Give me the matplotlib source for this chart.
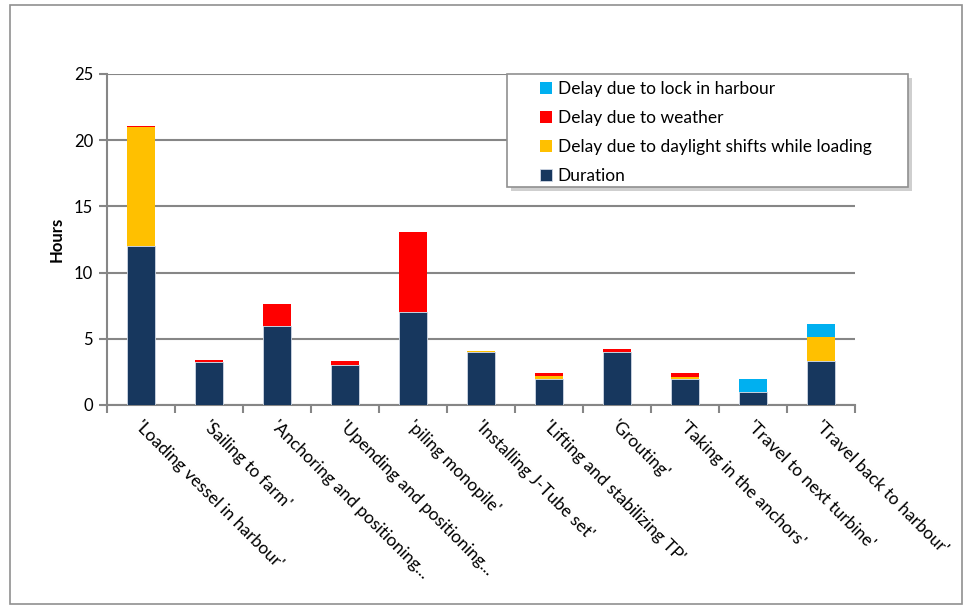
import numpy as np
import matplotlib.pyplot as plt
import matplotlib.transforms as mtrans
from matplotlib.patches import Rectangle

# task steps and hours per component
steps = ["'Loading vessel in harbour'", "'Sailing to farm'", "'Anchoring and positioning...",
         "'Upending and positioning...", "'piling monopile'", "'Installing J-Tube set'",
         "'Lifting and stabilizing TP'", "'Grouting'", "'Taking in the anchors'",
         "'Travel to next turbine'", "'Travel back to harbour'"]
duration = [12.0, 3.25, 6.0, 3.0, 7.0, 4.0, 2.0, 4.0, 2.0, 1.0, 3.3]
daylight = [9.0, 0.0, 0.0, 0.0, 0.05, 0.05, 0.2, 0.0, 0.1, 0.0, 1.8]
weather = [0.1, 0.15, 1.6, 0.35, 6.0, 0.0, 0.2, 0.2, 0.3, 0.0, 0.0]
lock = [0.0, 0.0, 0.0, 0.0, 0.0, 0.0, 0.0, 0.0, 0.0, 1.0, 1.0]

plt.rcParams['font.family'] = ['Lato', 'DejaVu Sans']

fig = plt.figure(figsize=(9.66, 6.05), dpi=100)
ax = fig.add_axes([0.1108, 0.3306, 0.7743, 0.5471])

x = np.arange(len(steps))
w = 0.4
ec = '#d0d8e4'
b1 = ax.bar(x, duration, w, color='#17375E', edgecolor=ec, linewidth=0.6, zorder=3, label='Duration')
bot = np.array(duration)
b2 = ax.bar(x, daylight, w, bottom=bot, color='#FFC000', edgecolor='none', zorder=3,
            label='Delay due to daylight shifts while loading')
bot = bot + np.array(daylight)
b3 = ax.bar(x, weather, w, bottom=bot, color='#FF0000', edgecolor='none', zorder=3,
            label='Delay due to weather')
bot = bot + np.array(weather)
b4 = ax.bar(x, lock, w, bottom=bot, color='#00B0F0', edgecolor='none', zorder=3,
            label='Delay due to lock in harbour')

ax.set_xlim(-0.5, len(steps) - 0.5)
ax.set_ylim(0, 25)
ax.set_yticks([0, 5, 10, 15, 20, 25])
ax.yaxis.grid(True, color='#868686', linewidth=1.5, zorder=0)
ax.tick_params(axis='y', labelsize=12, color='#868686', width=1.5, length=6, pad=4)

# category labels at bar centers, tick marks between categories
ax.set_xticks(x)
ax.set_xticklabels(steps, rotation=-45, ha='left', va='top', rotation_mode='anchor', fontsize=12.5)
ax.tick_params(axis='x', which='major', length=0, pad=9)
ax.set_xticks(np.arange(-0.5, len(steps)), minor=True)
ax.tick_params(axis='x', which='minor', length=6, color='#868686', width=1.5)
for lab in ax.get_xticklabels():
    lab.set_transform(lab.get_transform() + mtrans.ScaledTranslation(2 / 100, 0, fig.dpi_scale_trans))

for s in ['top', 'right']:
    ax.spines[s].set_visible(False)
for s in ['left', 'bottom']:
    ax.spines[s].set_color('#868686')
    ax.spines[s].set_linewidth(1.5)

ax.set_ylabel('Hours', fontsize=12, fontweight='bold', labelpad=7)

# legend box with drop shadow, entries drawn on top without their own frame
ax.add_patch(Rectangle((511 / 966, 1 - 191 / 605), 401 / 966, 113 / 605, transform=fig.transFigure,
                       facecolor='#b0b0b0', edgecolor='none', alpha=0.6, zorder=6, clip_on=False))
ax.add_patch(Rectangle((507 / 966, 1 - 187 / 605), 401 / 966, 113 / 605, transform=fig.transFigure,
                       facecolor='white', edgecolor='#909090', linewidth=1.2, zorder=6, clip_on=False))
leg = ax.legend(handles=[b4, b3, b2, b1], loc='upper left',
                bbox_to_anchor=(535 / 966, 1 - 76 / 605), bbox_transform=fig.transFigure,
                fontsize=12.5, frameon=False,
                handlelength=0.7, handleheight=0.7, handletextpad=0.3,
                labelspacing=0.74, borderpad=0.3, borderaxespad=0)
leg.set_zorder(7)

# outer chart border
fig.patches.append(Rectangle((10 / 966, 1 / 605), 952 / 966, 599 / 605, transform=fig.transFigure,
                             fill=False, edgecolor='#909090', linewidth=1.2))

fig.savefig('out.png', dpi=100)
